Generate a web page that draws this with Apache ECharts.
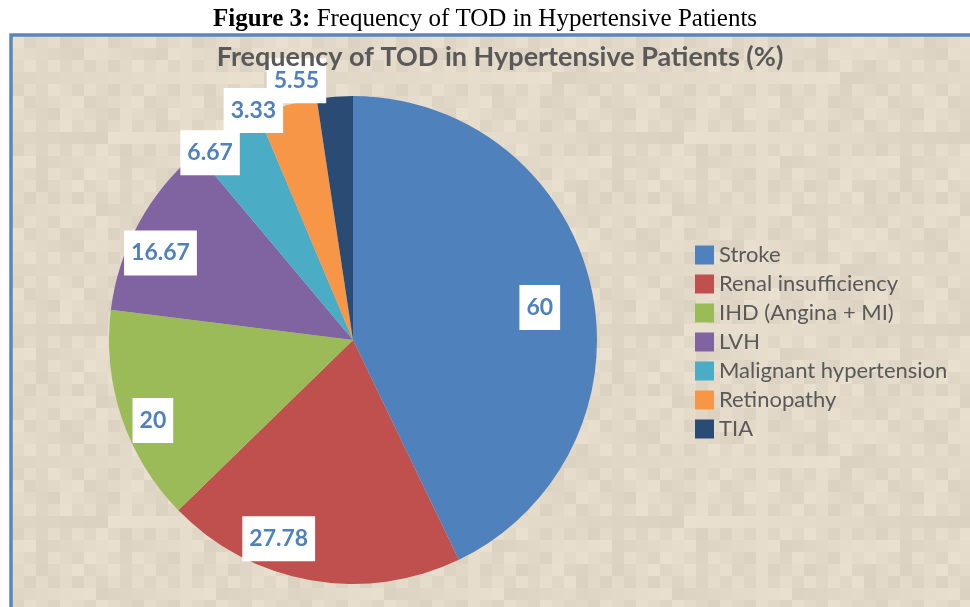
<!DOCTYPE html>
<html>
<head>
<meta charset="utf-8">
<title>Frequency of TOD in Hypertensive Patients</title>
<script src="https://cdn.jsdelivr.net/npm/echarts@6/dist/echarts.min.js"></script>
<style>
    html, body { margin: 0; padding: 0; background: #fff; }
    #chart { width: 970px; height: 607px; }
</style>
</head>
<body>
<div id="chart"></div>
<script>
    // data
    var categories = ['Stroke', 'Renal insufficiency', 'IHD (Angina + MI)', 'LVH',
        'Malignant hypertension', 'Retinopathy', 'TIA'];
    var values = [60, 27.78, 20, 16.67, 6.67, 5.55, 3.33];
    var colors = ['#4f81bd', '#c0504d', '#9bbb59', '#8064a2', '#4bacc6', '#f79646', '#2a4b74'];

    // nudges (px) to put the value boxes where Excel had them
    var labelShift = [[-17, 14], [-38, -7], [-2, 14], [-9, 13], [-34, -9], [0, -58], [-84, -21]];

    // blocky paper texture for the plot background (fixed hash, not data)
    function paperTexture() {
        var c = document.createElement('canvas');
        var bs = 12, nx = 24, ny = 16;
        c.width = bs * nx; c.height = bs * ny;
        var ctx = c.getContext('2d');
        for (var j = 0; j < ny; j++) {
            for (var i = 0; i < nx; i++) {
                var h = ((i * 73 + j * 151 + i * j * 17) % 29) / 29;
                var d = Math.round((h - 0.5) * 14);
                ctx.fillStyle = 'rgb(' + (226 + d) + ',' + (217 + d) + ',' + (201 + d) + ')';
                ctx.fillRect(i * bs, j * bs, bs, bs);
            }
        }
        return c;
    }

    var myChart = echarts.init(document.getElementById('chart'));

    var pieData = categories.map(function (name, i) {
        return { name: name, value: values[i], itemStyle: { color: colors[i] } };
    });

    var option = {
        backgroundColor: '#ffffff',
        animation: false,
        graphic: [{
            type: 'rect',
            z: -1,
            shape: { x: 11, y: 35, width: 980, height: 600 },
            style: {
                fill: { image: paperTexture(), repeat: 'repeat' },
                stroke: '#5a86c0',
                lineWidth: 3.5
            }
        }],
        title: [{
            text: '{b|Figure 3:}{n| Frequency of TOD in Hypertensive Patients}',
            left: 'center',
            top: 2,
            textStyle: {
                rich: {
                    b: { fontFamily: 'Liberation Serif', fontWeight: 'bold', fontSize: 25, color: '#000' },
                    n: { fontFamily: 'Liberation Serif', fontWeight: 'normal', fontSize: 25, color: '#000' }
                }
            }
        }, {
            text: 'Frequency of TOD in Hypertensive Patients (%)',
            left: 495,
            textAlign: 'center',
            top: 39,
            textStyle: { fontFamily: 'Lato', fontWeight: 'bold', fontSize: 27, color: '#595959' }
        }],
        legend: {
            orient: 'vertical',
            left: 690,
            top: 239,
            icon: 'rect',
            itemWidth: 19,
            itemHeight: 19,
            itemGap: 7,
            data: categories,
            textStyle: { fontFamily: 'Lato', fontSize: 22, color: '#595959' }
        },
        series: [{
            type: 'pie',
            center: [353, 340],
            radius: 244,
            startAngle: 90,
            clockwise: true,
            label: { show: false },
            labelLine: { show: false },
            data: pieData
        }, {
            // transparent ring used only to place the value labels
            type: 'pie',
            center: [353, 340],
            radius: [168, 244],
            startAngle: 90,
            clockwise: true,
            silent: true,
            itemStyle: { color: 'transparent' },
            label: {
                show: true,
                position: 'inside',
                formatter: '{c}',
                color: '#4f81bd',
                fontFamily: 'Lato',
                fontWeight: 'bold',
                fontSize: 23,
                lineHeight: 25,
                backgroundColor: '#ffffff',
                padding: [10, 7]
            },
            labelLine: { show: false },
            labelLayout: function (params) {
                var s = labelShift[params.dataIndex];
                return { dx: s[0], dy: s[1] };
            },
            data: categories.map(function (name, i) {
                return { name: name, value: values[i] };
            })
        }]
    };

    myChart.setOption(option);
</script>
</body>
</html>
